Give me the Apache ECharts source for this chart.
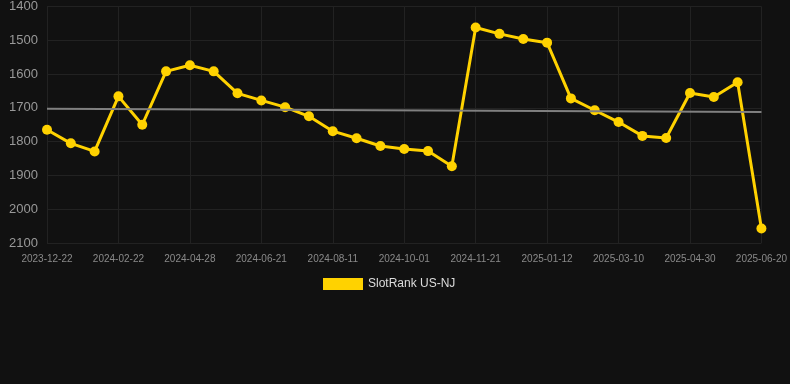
<!DOCTYPE html>
<html><head><meta charset="utf-8">
<script src="https://cdn.jsdelivr.net/npm/echarts@6/dist/echarts.min.js"></script>
<style>html,body{margin:0;padding:0;background:#111111;}#c{width:790px;height:384px;}</style>
</head><body><div id="c"></div>
<script>
const dates = ['2023-12-22','2024-01-12','2024-02-01','2024-02-22','2024-03-14','2024-04-06','2024-04-28','2024-05-16','2024-06-03','2024-06-21','2024-07-08','2024-07-25','2024-08-11','2024-08-28','2024-09-14','2024-10-01','2024-10-18','2024-11-04','2024-11-21','2024-12-08','2024-12-25','2025-01-12','2025-01-31','2025-02-19','2025-03-10','2025-03-27','2025-04-13','2025-04-30','2025-05-17','2025-06-03','2025-06-20'];
const ranks = [1765,1805,1829,1666,1750,1592,1574,1592,1657,1678,1698,1725,1769,1790,1813,1822,1828,1873,1462,1481,1496,1507,1672,1707,1742,1783,1789,1656,1668,1624,2057];
const trendStart = 1703;
const trendEnd = 1712;
const yTicks = [1400,1500,1600,1700,1800,1900,2000,2100];

const chart = echarts.init(document.getElementById('c'));
chart.setOption({
  backgroundColor: '#111111',
  animation: false,
  grid: {left: 47, right: 28, top: 6, bottom: 141},
  legend: {
    top: 278, left: 323, padding: 0,
    itemWidth: 40, itemHeight: 12, itemGap: 6,
    icon: 'rect',
    textStyle: {color: '#dddddd', fontSize: 12, fontFamily: 'Liberation Sans, Arial, sans-serif'},
    data: ['SlotRank US-NJ']
  },
  xAxis: {
    type: 'category', data: dates, boundaryGap: false,
    axisLine: {show: false},
    axisTick: {show: false},
    axisLabel: {interval: 2, color: '#8a8a8a', fontSize: 10, margin: 11, fontFamily: 'Liberation Sans, Arial, sans-serif'},
    splitLine: {show: true, interval: 2, lineStyle: {color: '#222222', width: 1}}
  },
  yAxis: {
    type: 'value', inverse: true, min: yTicks[0], max: yTicks[yTicks.length-1], interval: 100,
    axisLine: {show: false}, axisTick: {show: false},
    axisLabel: {color: '#999999', fontSize: 13, margin: 9, formatter: v => String(v), fontFamily: 'Liberation Sans, Arial, sans-serif'},
    splitLine: {lineStyle: {color: '#222222', width: 1}}
  },
  series: [{
    name: 'SlotRank US-NJ', type: 'line', data: ranks,
    color: '#ffd200',
    lineStyle: {width: 3, color: '#ffd200'},
    itemStyle: {color: '#ffd200'},
    symbol: 'circle', symbolSize: 10, showSymbol: true,
    markLine: {
      silent: true, symbol: 'none', label: {show: false},
      lineStyle: {color: '#808080', width: 2, type: 'solid'},
      data: [[{coord: [dates[0], trendStart]}, {coord: [dates[dates.length-1], trendEnd]}]]
    },
    z: 3
  }]
});
</script></body></html>
